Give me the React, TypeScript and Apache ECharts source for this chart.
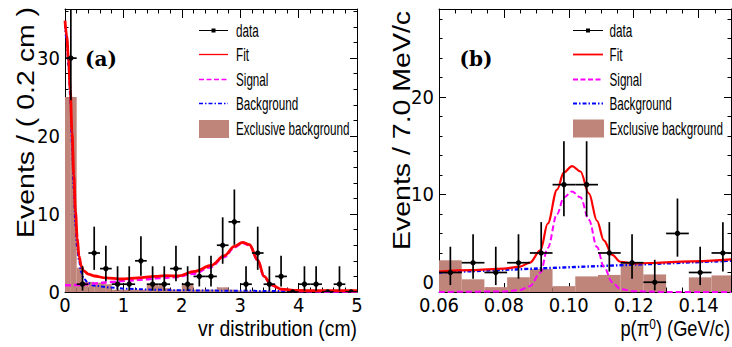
import { useEffect, useRef } from "react";
import * as echarts from "echarts";

// ---------------- data: panel (a) vr distribution ----------------
const aCenters = [0.1, 0.3, 0.5, 0.7, 0.9, 1.1, 1.3, 1.5, 1.7, 1.9, 2.1, 2.3, 2.5, 2.7, 2.9, 3.1, 3.3, 3.5, 3.7, 3.9, 4.1, 4.3, 4.5, 4.7, 4.9];
const aCounts = [30, 1, 5, 3, 1, 1, 4, 1, 1, 3, 1, 2, 2, 6, 9, 1, 5, 1, 2, 0, 1, 1, 0, 1, 0];
const aErrLo = [24.6, 0.17, 2.84, 1.37, 0.17, 0.17, 2.09, 0.17, 0.17, 1.37, 0.17, 0.71, 0.71, 3.62, 6.06, 0.17, 2.84, 0.17, 0.71, 0, 0.17, 0.17, 0, 0.17, 0];
const aErrHi = [36.5, 3.3, 8.38, 5.92, 3.3, 3.3, 7.16, 3.3, 3.3, 5.92, 3.3, 4.64, 4.64, 9.58, 13.15, 3.3, 8.38, 3.3, 4.64, 0, 3.3, 3.3, 0, 3.3, 0];
const aBinHalf = 0.1;
const aExclEdges = [0, 0.1, 0.2, 0.3, 0.4, 0.5, 0.6, 0.7, 0.8, 0.9, 1.0, 1.1, 1.2, 1.3, 1.4, 1.5, 1.6, 1.7, 1.8, 1.9, 2.0, 2.1, 2.2, 2.3, 2.4, 2.5, 2.6, 2.7, 2.8, 2.9, 3.0, 3.1, 3.2, 3.3, 3.4, 3.5, 3.6, 3.7, 3.8, 3.9, 4.0, 4.1, 4.2, 4.3, 4.4, 4.5, 4.6, 4.7, 4.8, 4.9, 5.0];
const aExcl = [25, 25, 3.1, 1.3, 1.3, 1.2, 1.2, 1.0, 0.3, 0.3, 0.3, 0.3, 0.3, 0.3, 0.9, 0.9, 0.9, 0.5, 0.3, 0.3, 1.0, 1.0, 0.3, 0.3, 0.3, 0.3, 0.6, 0.6, 0.3, 0.2, 0.15, 0.15, 0.15, 0.15, 0.15, 0.15, 0.15, 0.15, 0.15, 0.15, 0.1, 0.1, 0.1, 0.1, 0.1, 0.1, 0.1, 0.1, 0.1, 0.1];
const aFit = [[0, 34.8], [0.03, 32.8], [0.06, 29.8], [0.09, 26], [0.12, 20.5], [0.15, 15], [0.18, 10.3], [0.21, 6.9], [0.24, 4.6], [0.28, 3.3], [0.32, 2.7], [0.4, 2.3], [0.5, 2.05], [0.7, 1.8], [0.97, 1.67], [1.25, 1.8], [1.54, 2.0], [1.71, 2.1], [1.93, 2.05], [2.22, 2.65], [2.5, 3.4], [2.73, 4.65], [2.9, 5.85], [3.04, 6.36], [3.16, 6.06], [3.3, 4.1], [3.41, 2.0], [3.53, 0.94], [3.7, 0.38], [3.92, 0.2], [4.5, 0.17], [5, 0.16]];
const aSignal = [[0, 0.85], [0.25, 0.9], [0.5, 1.1], [0.77, 1.28], [1.06, 1.45], [1.35, 1.62], [1.63, 1.8], [1.91, 1.92], [2.2, 2.35], [2.48, 3.15], [2.73, 4.5], [2.9, 5.75], [3.04, 6.3], [3.16, 6.0], [3.3, 4.05], [3.41, 1.95], [3.53, 0.9], [3.7, 0.33], [3.92, 0.12], [4.5, 0.07], [5, 0.06]];
const aBkg = [[0, 34.3], [0.03, 32.1], [0.06, 29], [0.09, 25], [0.12, 19], [0.15, 13.2], [0.18, 8.5], [0.21, 5.6], [0.24, 4.0], [0.28, 2.5], [0.32, 1.7], [0.4, 1.15], [0.485, 0.82], [0.77, 0.58], [1.06, 0.42], [1.5, 0.3], [2, 0.22], [2.5, 0.18], [3, 0.15], [4, 0.12], [5, 0.1]];

// ---------------- data: panel (b) p(pi0) ----------------
const bCenters = [0.0635, 0.0705, 0.0775, 0.0845, 0.0915, 0.0985, 0.1055, 0.1125, 0.1195, 0.1265, 0.1335, 0.1405, 0.1475];
const bCounts = [2, 3, 2, 3, 4, 11, 11, 4, 3, 1, 6, 2, 4];
const bErrLo = [0.71, 1.37, 0.71, 1.37, 2.09, 7.75, 7.75, 2.09, 1.37, 0.17, 3.62, 0.71, 2.09];
const bErrHi = [4.64, 5.92, 4.64, 5.92, 7.16, 15.45, 15.45, 7.16, 5.92, 3.3, 9.58, 4.64, 7.16];
const bBinHalf = 0.0035;
const bExclEdges = [0.06, 0.067, 0.074, 0.081, 0.088, 0.095, 0.102, 0.109, 0.116, 0.123, 0.13, 0.137, 0.144, 0.151];
const bExcl = [3.25, 1.3, 0.5, 1.5, 2.35, 0.6, 1.6, 1.75, 3.0, 1.8, 0, 1.5, 1.7];
const bFit = [[0.06, 2.1], [0.07, 2.25], [0.08, 2.4], [0.085, 2.6], [0.088, 3.0], [0.0913, 4.3], [0.0935, 7.0], [0.0964, 10.5], [0.0985, 12.25], [0.101, 12.9], [0.1036, 12.35], [0.1062, 10.1], [0.1087, 7.3], [0.1108, 5.3], [0.1134, 3.8], [0.1159, 3.1], [0.12, 2.92], [0.125, 2.97], [0.135, 3.12], [0.15, 3.35]];
const bSignal = [[0.06, 0], [0.08, 0.05], [0.085, 0.2], [0.088, 0.6], [0.0913, 2.0], [0.0935, 4.5], [0.0964, 8.0], [0.0985, 9.7], [0.101, 10.3], [0.1036, 9.7], [0.1062, 7.4], [0.1087, 4.6], [0.1108, 2.6], [0.1134, 1.0], [0.1159, 0.3], [0.12, 0.08], [0.13, 0], [0.15, 0]];
const bBkg = [[0.06, 2.0], [0.15, 3.2]];

// ---------------- axis settings ----------------
const aX = { min: 0, max: 5, major: 1, minor: 0.2 };
const aY = { min: 0, max: 36.3, major: 10, minor: 2 };
const bX = { min: 0.06, max: 0.15, major: 0.02, minor: 0.005 };
const bY = { min: 0, max: 29, major: 10, minor: 2 };

const legendNames = ["data", "Fit", "Signal", "Background", "Exclusive background"];

const BROWN = "#c0857a";
const RED = "#ff0000";
const MAGENTA = "#ff00ff";
const BLUE = "#0000ff";
const NARROW = '"Liberation Sans Narrow","Arial Narrow","DejaVu Sans Condensed","Liberation Sans",sans-serif';
const SANS = '"Liberation Sans",Arial,Helvetica,sans-serif';
const SERIF = '"DejaVu Serif","Liberation Serif",serif';

function histRender(params: any, api: any) {
  const lo = api.value(0), hi = api.value(1), h = api.value(2);
  if (!(h > 0)) return null;
  const p1 = api.coord([lo, h]);
  const p2 = api.coord([hi, 0]);
  const cs = params.coordSys;
  const shape = echarts.graphic.clipRectByRect(
    { x: p1[0], y: p1[1], width: p2[0] - p1[0], height: p2[1] - p1[1] },
    { x: cs.x, y: cs.y, width: cs.width, height: cs.height }
  );
  if (!shape) return null;
  return { type: "rect", shape, style: { fill: BROWN } };
}

function pointRender(params: any, api: any) {
  const x = api.value(0), y = api.value(1), lo = api.value(2), hi = api.value(3), hw = api.value(4);
  const c = api.coord([x, y]);
  const l = api.coord([x - hw, y]);
  const r = api.coord([x + hw, y]);
  const t = api.coord([x, hi]);
  const b = api.coord([x, lo]);
  const st = { stroke: "#000", lineWidth: 1.7 };
  const children: any[] = [{ type: "line", shape: { x1: l[0], y1: c[1], x2: r[0], y2: c[1] }, style: st }];
  if (hi > lo) children.push({ type: "line", shape: { x1: c[0], y1: t[1], x2: c[0], y2: b[1] }, style: st });
  children.push({ type: "circle", shape: { cx: c[0], cy: c[1], r: 2.7 }, style: { fill: "#000" } });
  return { type: "group", children };
}

function xAxes(grid: number, s: any, labelFmt?: (v: number) => string, showMax = true) {
  const common = { type: "value", gridIndex: grid, min: s.min, max: s.max, splitLine: { show: false } };
  const lineOn = { show: true, onZero: false, lineStyle: { color: "#000", width: 1 } };
  const label = { show: true, color: "#000", fontSize: 20, lineHeight: 16, fontFamily: NARROW, margin: 5, showMaxLabel: showMax, formatter: labelFmt };
  return [
    { ...common, position: "bottom", interval: s.major, axisLine: lineOn, axisTick: { show: true, inside: true, length: 9, lineStyle: { color: "#000" } }, axisLabel: label },
    { ...common, position: "bottom", interval: s.minor, axisLine: { show: false, onZero: false }, axisTick: { show: true, inside: true, length: 4.5, lineStyle: { color: "#000" } }, axisLabel: { show: false } },
    { ...common, position: "top", interval: s.major, axisLine: lineOn, axisTick: { show: true, inside: true, length: 9, lineStyle: { color: "#000" } }, axisLabel: { show: false } },
    { ...common, position: "top", interval: s.minor, axisLine: { show: false, onZero: false }, axisTick: { show: true, inside: true, length: 4.5, lineStyle: { color: "#000" } }, axisLabel: { show: false } },
  ];
}

function yAxes(grid: number, s: any, minLabelAlign?: string) {
  const common = { type: "value", gridIndex: grid, min: s.min, max: s.max, splitLine: { show: false } };
  const lineOn = { show: true, onZero: false, lineStyle: { color: "#000", width: 1 } };
  const label: any = { show: true, color: "#000", fontSize: 20, fontFamily: NARROW, margin: 5, showMaxLabel: false };
  if (minLabelAlign) label.verticalAlignMinLabel = minLabelAlign;
  return [
    { ...common, position: "left", interval: s.major, axisLine: lineOn, axisTick: { show: true, inside: true, length: 7, lineStyle: { color: "#000" } }, axisLabel: label },
    { ...common, position: "left", interval: s.minor, axisLine: { show: false, onZero: false }, axisTick: { show: true, inside: true, length: 3.5, lineStyle: { color: "#000" } }, axisLabel: { show: false } },
    { ...common, position: "right", interval: s.major, axisLine: lineOn, axisTick: { show: true, inside: true, length: 7, lineStyle: { color: "#000" } }, axisLabel: { show: false } },
    { ...common, position: "right", interval: s.minor, axisLine: { show: false, onZero: false }, axisTick: { show: true, inside: true, length: 3.5, lineStyle: { color: "#000" } }, axisLabel: { show: false } },
  ];
}

function curve(name: string, data: number[][], axis: number, color: string, width: number, type: any) {
  return {
    name, type: "line", data, xAxisIndex: axis, yAxisIndex: axis, showSymbol: false, symbol: "none",
    smooth: 0.35, smoothMonotone: "x", clip: true, z: 3,
    lineStyle: { color, width, type },
  };
}

function legend(key: string, x0: number, x1: number, tx: number, rows: number[], box: number[], fitW: number) {
  const els: any[] = [];
  const ts = (text: string, y: number, i: number) => ({
    id: key + "t" + i, type: "text", x: tx, y, scaleX: 0.66, z: 100,
    style: { text, fontSize: 17.7, fontFamily: SANS, fill: "#000", align: "left", verticalAlign: "middle" },
  });
  els.push({ id: key + "l0", type: "line", z: 100, shape: { x1: x0, y1: rows[0], x2: x1, y2: rows[0] }, style: { stroke: "#000", lineWidth: 1, fill: null } });
  els.push({ id: key + "m0", type: "rect", z: 100, shape: { x: (x0 + x1) / 2 - 2, y: rows[0] - 2, width: 4, height: 4 }, style: { fill: "#000" } });
  els.push({ id: key + "l1", type: "line", z: 100, shape: { x1: x0, y1: rows[1], x2: x1, y2: rows[1] }, style: { stroke: RED, lineWidth: fitW, fill: null } });
  els.push({ id: key + "l2", type: "line", z: 100, shape: { x1: x0, y1: rows[2], x2: x1, y2: rows[2] }, style: { stroke: MAGENTA, lineWidth: fitW, lineDash: [5, 2.5], fill: null } });
  els.push({ id: key + "l3", type: "line", z: 100, shape: { x1: x0, y1: rows[3], x2: x1, y2: rows[3] }, style: { stroke: BLUE, lineWidth: fitW, lineDash: [4, 2, 1.5, 2], fill: null } });
  els.push({ id: key + "b", type: "rect", z: 100, shape: { x: x0, y: box[0], width: x1 - x0 + 1, height: box[1] - box[0] }, style: { fill: BROWN } });
  legendNames.forEach((n, i) => els.push(ts(n, i < 4 ? rows[i] : (box[0] + box[1]) / 2, i)));
  return els;
}

export default function App() {
  const ref = useRef<HTMLDivElement>(null);
  useEffect(() => {
    if (!ref.current) return;
    const chart = echarts.init(ref.current, null, { renderer: "svg" });
    const option: any = {
      animation: false,
      backgroundColor: "#fff",
      grid: [
        { left: 65, top: 9, width: 292, height: 283, containLabel: false, outerBoundsMode: "none" },
        { left: 439, top: 9, width: 292, height: 283, containLabel: false, outerBoundsMode: "none" },
      ],
      xAxis: [...xAxes(0, aX), ...xAxes(1, bX, (v: number) => v.toFixed(2), false)],
      yAxis: [...yAxes(0, aY), ...yAxes(1, bY, "bottom")],
      series: [
        { name: "Exclusive background", type: "custom", xAxisIndex: 0, yAxisIndex: 0, clip: true, z: 1, renderItem: histRender, encode: { x: [0, 1], y: 2 },
          data: aExcl.map((h, i) => [aExclEdges[i], aExclEdges[i + 1], h]) },
        { name: "Exclusive background", type: "custom", xAxisIndex: 4, yAxisIndex: 4, clip: true, z: 1, renderItem: histRender, encode: { x: [0, 1], y: 2 },
          data: bExcl.map((h, i) => [bExclEdges[i], bExclEdges[i + 1], h]) },
        curve("Background", aBkg, 0, BLUE, 2, [4, 2, 1.5, 2]),
        curve("Signal", aSignal, 0, MAGENTA, 2.5, [6, 3]),
        curve("Fit", aFit, 0, RED, 2.8, "solid"),
        curve("Background", bBkg, 4, BLUE, 2.4, [4, 2, 1.5, 2]),
        curve("Signal", bSignal, 4, MAGENTA, 2, [6, 3]),
        curve("Fit", bFit, 4, RED, 2.2, "solid"),
        { name: "data", type: "custom", xAxisIndex: 0, yAxisIndex: 0, clip: true, z: 5, renderItem: pointRender, encode: { x: 0, y: 1 },
          data: aCenters.map((x, i) => [x, aCounts[i], aErrLo[i], aErrHi[i], aBinHalf]) },
        { name: "data", type: "custom", xAxisIndex: 4, yAxisIndex: 4, clip: true, z: 5, renderItem: pointRender, encode: { x: 0, y: 1 },
          data: bCenters.map((x, i) => [x, bCounts[i], bErrLo[i], bErrHi[i], bBinHalf]) },
      ],
      graphic: {
        elements: [
          { id: "ytA", type: "text", x: 26, y: 238, rotation: Math.PI / 2, scaleY: 0.82,
            style: { text: "Events / ( 0.2 cm )", fontSize: 28.5, fontFamily: SANS, fill: "#000", align: "left", verticalAlign: "middle" } },
          { id: "ytB", type: "text", x: 401.5, y: 250, rotation: Math.PI / 2, scaleY: 0.82,
            style: { text: "Events / 7.0 MeV/c", fontSize: 28.5, fontFamily: SANS, fill: "#000", align: "left", verticalAlign: "middle" } },
          { id: "xtA", type: "text", x: 357, y: 328, scaleX: 0.9,
            style: { text: "vr distribution (cm)", fontSize: 21.5, fontFamily: SANS, fill: "#000", align: "right", verticalAlign: "middle" } },
          { id: "xtB", type: "text", x: 730, y: 328, scaleX: 0.85,
            style: { text: "p(π{sup|0}) (GeV/c)", fontSize: 21.5, fontFamily: SANS, fill: "#000", align: "right", verticalAlign: "middle",
              rich: { sup: { fontSize: 14, fontFamily: SANS, fill: "#000", verticalAlign: "top" } } } },
          { id: "labA", type: "text", x: 101, y: 59,
            style: { text: "(a)", fontSize: 20, fontWeight: "bold", fontFamily: SERIF, fill: "#000", align: "center", verticalAlign: "middle" } },
          { id: "labB", type: "text", x: 476, y: 59,
            style: { text: "(b)", fontSize: 20, fontWeight: "bold", fontFamily: SERIF, fill: "#000", align: "center", verticalAlign: "middle" } },
          ...legend("LA", 199, 228, 236, [30.5, 54.5, 79.5, 103.5], [120, 138], 1.3),
          ...legend("LB", 573, 603, 609.5, [30.5, 54.5, 79.5, 103.5], [119.5, 137.5], 1.8),
        ],
      },
    };
    chart.setOption(option);
    return () => chart.dispose();
  }, []);
  return <div ref={ref} style={{ position: "fixed", left: 0, top: 0, width: 732, height: 347, background: "#fff" }} />;
}
